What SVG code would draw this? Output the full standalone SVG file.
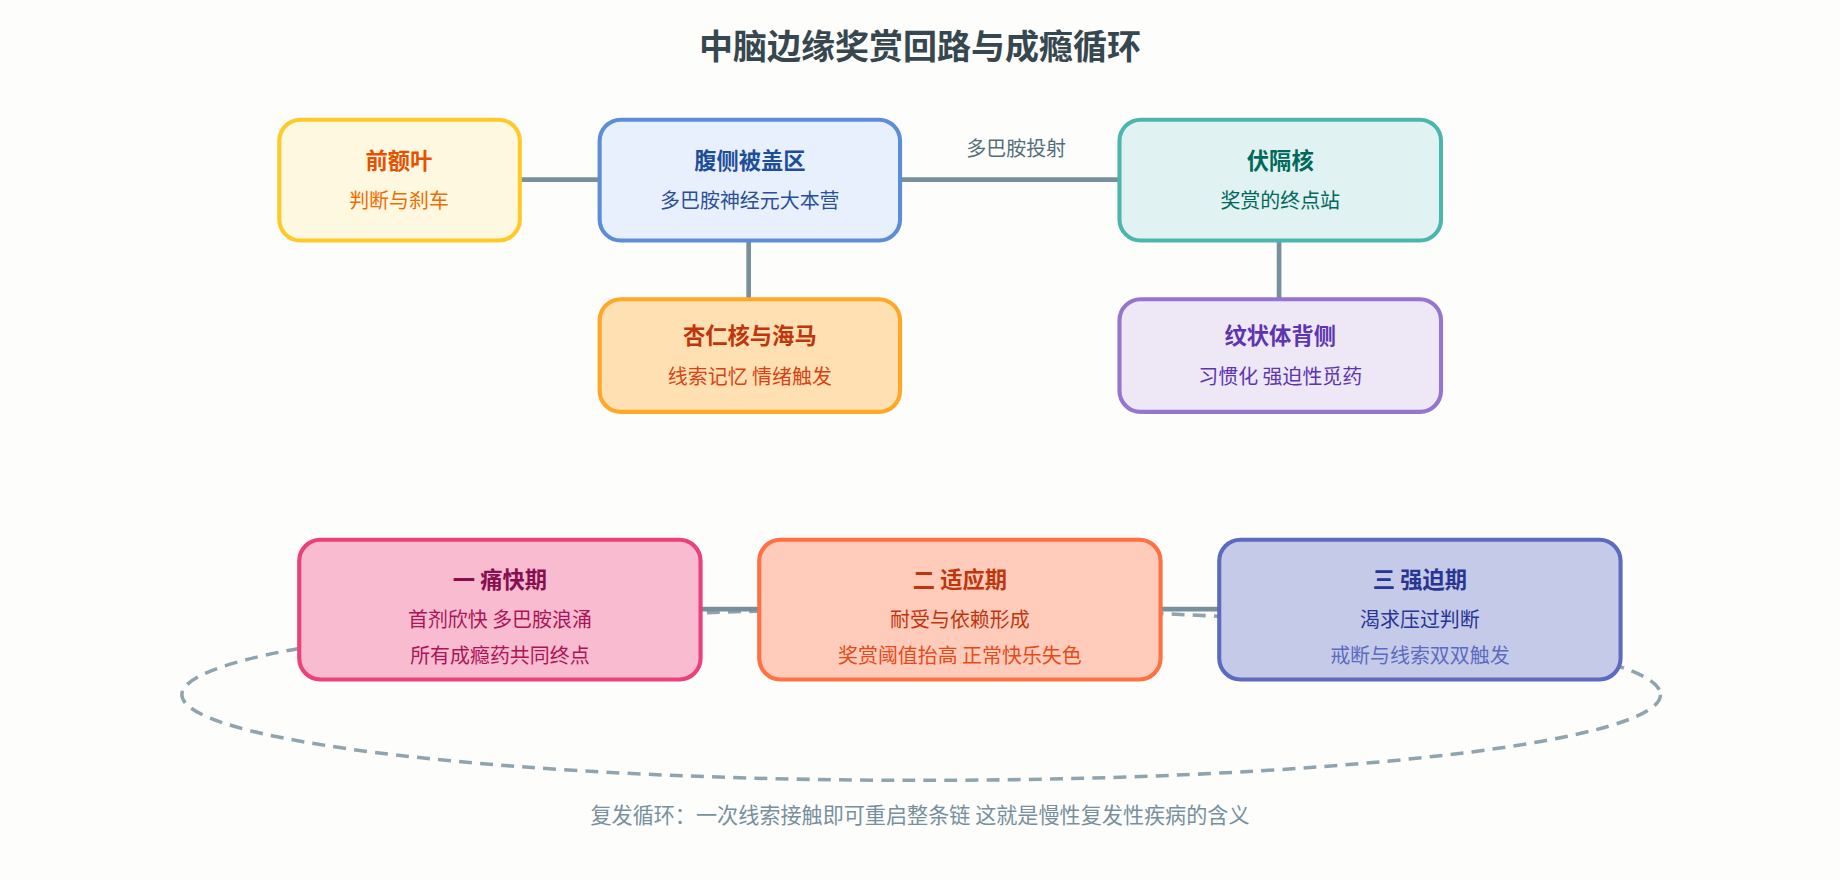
<svg xmlns="http://www.w3.org/2000/svg" width="1840" height="880" viewBox="0 0 1840 880">
<defs>
<style>
text{font-family:"Noto Sans CJK SC","Noto Sans",sans-serif;text-anchor:middle}
.t{font-size:19px;font-weight:bold}
.s{font-size:17px}
.box{stroke-width:3.5}
.ln{stroke:#78909c;stroke-width:4;fill:none}
</style>
<marker id="ar" viewBox="0 0 10 10" refX="9" refY="5" markerWidth="5" markerHeight="5" orient="auto"><path d="M0,0L10,5L0,10z" fill="#78909c"/></marker>
</defs>
<rect width="1840" height="880" fill="#fdfdfc"/>
<g transform="scale(1.17347)">
<text x="784" y="50" style="font-size:29px;font-weight:bold" fill="#37474f">中脑边缘奖赏回路与成瘾循环</text>
<ellipse cx="785" cy="592" rx="630" ry="73" fill="none" stroke="#90a4ae" stroke-width="3" stroke-dasharray="11 7"/>
<g id="connectors">
<line class="ln" x1="443" y1="153" x2="511" y2="153"/>
<line class="ln" x1="767" y1="153" x2="972" y2="153" marker-end="url(#ar)"/>
<line class="ln" x1="638" y1="205" x2="638" y2="255"/>
<line class="ln" x1="1090" y1="205" x2="1090" y2="255"/>
<line class="ln" x1="597" y1="519" x2="647" y2="519"/>
<line class="ln" x1="989" y1="519" x2="1039" y2="519"/>
<text x="866" y="133" class="s" fill="#546e7a">多巴胺投射</text>
</g>
<g id="pfc"><rect class="box" x="238" y="102" width="205" height="103" rx="18" fill="#fff8e1" stroke="#ffca28"/>
<text x="340" y="144" class="t" fill="#e65100">前额叶</text><text x="340" y="177" class="s" fill="#ef6c00">判断与刹车</text></g>
<g id="vta"><rect class="box" x="511" y="102" width="256" height="103" rx="18" fill="#e8f0fe" stroke="#5c8dd6"/>
<text x="639" y="144" class="t" fill="#1f4e99">腹侧被盖区</text><text x="639" y="177" class="s" fill="#2a4f9a">多巴胺神经元大本营</text></g>
<g id="nac"><rect class="box" x="954" y="102" width="274" height="103" rx="18" fill="#e0f2f1" stroke="#4db6ac"/>
<text x="1091" y="144" class="t" fill="#00695c">伏隔核</text><text x="1091" y="177" class="s" fill="#00695c">奖赏的终点站</text></g>
<g id="amy"><rect class="box" x="511" y="255" width="256" height="96" rx="18" fill="#ffe0b2" stroke="#ffa726"/>
<text x="639" y="293" class="t" fill="#bf360c">杏仁核与海马</text><text x="639" y="327" class="s" fill="#d84315">线索记忆 情绪触发</text></g>
<g id="dstr"><rect class="box" x="954" y="255" width="274" height="96" rx="18" fill="#ede7f6" stroke="#9575cd"/>
<text x="1091" y="293" class="t" fill="#5e35b1">纹状体背侧</text><text x="1091" y="327" class="s" fill="#5e35b1">习惯化 强迫性觅药</text></g>
<g id="p1"><rect class="box" x="255" y="460" width="342" height="119" rx="18" fill="#f8bbd0" stroke="#ec407a"/>
<text x="426" y="501" class="t" fill="#880e4f">一 痛快期</text><text x="426" y="534" class="s" fill="#ad1457">首剂欣快 多巴胺浪涌</text><text x="426" y="565" class="s" fill="#ad1457">所有成瘾药共同终点</text></g>
<g id="p2"><rect class="box" x="647" y="460" width="342" height="119" rx="18" fill="#ffccbc" stroke="#ff7043"/>
<text x="818" y="501" class="t" fill="#bf360c">二 适应期</text><text x="818" y="534" class="s" fill="#bf360c">耐受与依赖形成</text><text x="818" y="565" class="s" fill="#e64a19">奖赏阈值抬高 正常快乐失色</text></g>
<g id="p3"><rect class="box" x="1039" y="460" width="342" height="119" rx="18" fill="#c5cae9" stroke="#5c6bc0"/>
<text x="1210" y="501" class="t" fill="#283593">三 强迫期</text><text x="1210" y="534" class="s" fill="#283593">渴求压过判断</text><text x="1210" y="565" class="s" fill="#5c6bc0">戒断与线索双双触发</text></g>
<text x="784" y="701" style="font-size:18px" fill="#78909c">复发循环：一次线索接触即可重启整条链 这就是慢性复发性疾病的含义</text>
</g>
</svg>
